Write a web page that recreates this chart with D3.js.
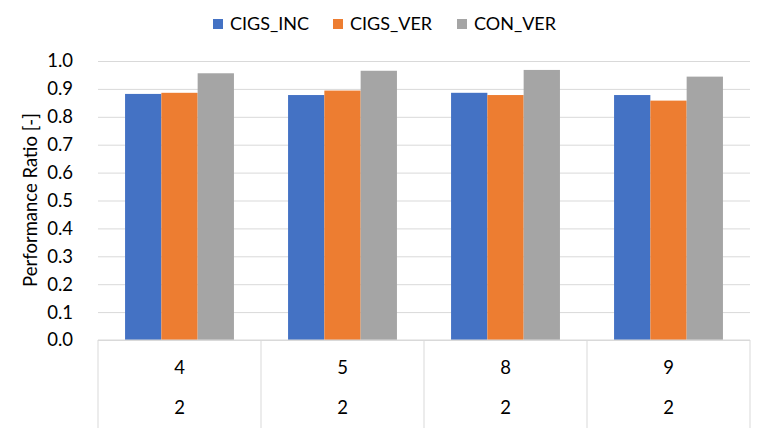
<!DOCTYPE html>
<html>
<head>
<meta charset="utf-8">
<script src="https://cdn.jsdelivr.net/npm/d3@7"></script>
<style>
   body { margin: 0; background: #fff; }
   svg { display: block; font-family: Lato, "Open Sans", sans-serif; }
</style>
</head>
<body>
<svg id="chart"></svg>
<script>
// chart data
let categories = ['4', '5', '8', '9'];
let outerLabels = ['2', '2', '2', '2'];
let seriesNames = ['CIGS_INC', 'CIGS_VER', 'CON_VER'];
let cigsInc = [0.882, 0.878, 0.886, 0.878];
let cigsVer = [0.886, 0.894, 0.878, 0.858];
let conVer = [0.956, 0.965, 0.968, 0.944];
let yTicks = [0, 0.1, 0.2, 0.3, 0.4, 0.5, 0.6, 0.7, 0.8, 0.9, 1.0];
let colors = ['#4472C4', '#ED7D31', '#A5A5A5'];

window.onload = function() {
   drawGraphic();
}

function drawGraphic() {
   let width = 764;
   let height = 428;
   let margin = {top: 61, right: 14, bottom: 88, left: 98};
   let plotW = width - margin.left - margin.right;
   let plotH = height - margin.top - margin.bottom;
   let series = [cigsInc, cigsVer, conVer];
   let fs = "18.5px";

   let svg = d3.select("svg#chart")
      .attr("width", width)
      .attr("height", height)
      .attr("viewBox", [0, 0, width, height]);

   let x = d3.scaleBand()
      .domain(categories)
      .range([0, plotW])
      .paddingInner(0)
      .paddingOuter(0);
   // inner scale for the three bars in each category
   let groupPad = x.bandwidth() * 0.166;
   let xInner = d3.scaleBand()
      .domain(d3.range(series.length))
      .range([groupPad, x.bandwidth() - groupPad]);

   let y = d3.scaleLinear()
      .domain([0, 1])
      .range([plotH, 0]);

   let g = svg.append('g')
      .attr("transform", "translate(" + margin.left + ", " + margin.top + ")");

   // gridlines
   let leftAxis = d3.axisLeft(y)
      .tickValues(yTicks)
      .tickFormat(d => d.toFixed(1))
      .tickSize(-plotW)
      .tickPadding(25);
   let yAxisG = g.append('g').call(leftAxis);
   yAxisG.select(".domain").remove();
   yAxisG.selectAll(".tick line").attr("stroke", "#d9d9d9");
   yAxisG.selectAll(".tick text")
      .attr("fill", "#000")
      .attr("font-size", fs)
      .attr("font-family", "Lato, 'Open Sans', sans-serif");

   // bars
   series.forEach(function(vals, si) {
      g.append('g').selectAll("rect")
         .data(vals)
         .join("rect")
            .attr("x", (d, i) => x(categories[i]) + xInner(si))
            .attr("width", xInner.bandwidth())
            .attr("y", d => y(d))
            .attr("height", d => plotH - y(d))
            .attr("fill", colors[si]);
   });

   // bottom multi-level category axis
   let bottom = g.append('g').attr("transform", "translate(0, " + plotH + ")");
   bottom.append("line")
      .attr("x1", 0).attr("x2", plotW)
      .attr("stroke", "#d9d9d9");
   let edges = categories.map(c => x(c)).concat([plotW]);
   bottom.selectAll("line.sep")
      .data(edges)
      .join("line")
         .attr("class", "sep")
         .attr("x1", d => d).attr("x2", d => d)
         .attr("y1", 0).attr("y2", margin.bottom)
         .attr("stroke", "#d9d9d9");
   bottom.selectAll("text.inner")
      .data(categories)
      .join("text")
         .attr("class", "inner")
         .attr("x", d => x(d) + x.bandwidth() / 2)
         .attr("y", 34)
         .attr("text-anchor", "middle")
         .attr("font-size", fs)
         .text(d => d);
   bottom.selectAll("text.outer")
      .data(outerLabels)
      .join("text")
         .attr("class", "outer")
         .attr("x", (d, i) => x(categories[i]) + x.bandwidth() / 2)
         .attr("y", 74)
         .attr("text-anchor", "middle")
         .attr("font-size", fs)
         .text(d => d);

   // left axis label
   let xc = 31;
   let yc = 200;
   svg.append("text")
      .attr("transform", "rotate(-90," + xc + ", " + yc + ")")
      .attr("x", xc)
      .attr("y", yc)
      .attr("dy", "0.35em")
      .attr("text-anchor", "middle")
      .attr("font-size", fs)
      .text("Performance Ratio [-]");

   // legend
   let legendX = [213, 333, 457];
   let legend = svg.append('g').selectAll("g")
      .data(seriesNames)
      .join("g")
         .attr("transform", (d, i) => "translate(" + legendX[i] + ", 24)");
   legend.append("rect")
      .attr("x", 0).attr("y", -5)
      .attr("width", 10).attr("height", 10)
      .attr("fill", (d, i) => colors[i]);
   legend.append("text")
      .attr("x", 17)
      .attr("dy", "0.35em")
      .attr("font-size", "18px")
      .text(d => d);
}
</script>
</body>
</html>
